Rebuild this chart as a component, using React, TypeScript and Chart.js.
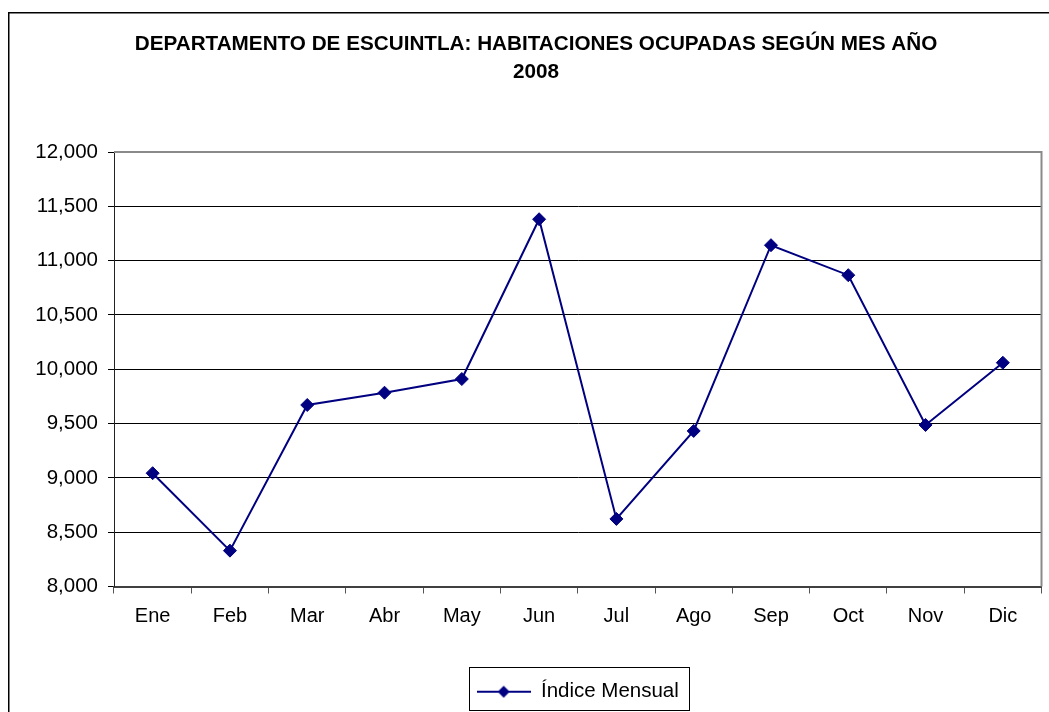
import React, { useEffect, useRef } from 'react';
import { Chart, registerables } from 'chart.js';

Chart.register(...registerables);

const TITLE_LINES = ['DEPARTAMENTO DE ESCUINTLA: HABITACIONES OCUPADAS SEGÚN MES AÑO', '2008'];
const MONTHS = ['Ene', 'Feb', 'Mar', 'Abr', 'May', 'Jun', 'Jul', 'Ago', 'Sep', 'Oct', 'Nov', 'Dic'];
const INDICE_MENSUAL = [9043, 8330, 9671, 9784, 9910, 11381, 8622, 9432, 11142, 10866, 9487, 10060];
const SERIES_LABEL = 'Índice Mensual';
const Y_MIN = 8000;
const Y_MAX = 12000;
const Y_STEP = 500;

const FONT = "'Liberation Sans', Arial, sans-serif";
const NAVY = '#000080';

function makeLegendSymbol(): HTMLCanvasElement {
  const c = document.createElement('canvas');
  c.width = 54;
  c.height = 14;
  const g = c.getContext('2d')!;
  g.strokeStyle = NAVY;
  g.lineWidth = 2;
  g.beginPath();
  g.moveTo(0, 7);
  g.lineTo(54, 7);
  g.stroke();
  g.fillStyle = NAVY;
  g.beginPath();
  g.moveTo(27, 1);
  g.lineTo(33, 7);
  g.lineTo(27, 13);
  g.lineTo(21, 7);
  g.closePath();
  g.fill();
  return c;
}

const framePlugin = {
  id: 'frame',
  afterDraw(chart: any) {
    const { ctx, chartArea: ca, width, height } = chart;
    ctx.save();
    // plot area top / right border
    ctx.strokeStyle = '#8a8a8a';
    ctx.lineWidth = 2;
    ctx.beginPath();
    ctx.moveTo(ca.left, ca.top);
    ctx.lineTo(ca.right, ca.top);
    ctx.lineTo(ca.right, ca.bottom);
    ctx.stroke();
    // outer chart border (left / top visible)
    ctx.strokeStyle = '#000';
    ctx.lineWidth = 1.5;
    ctx.beginPath();
    ctx.moveTo(0.75, height);
    ctx.lineTo(0.75, 0.75);
    ctx.lineTo(width, 0.75);
    ctx.stroke();
    // legend box
    const hb = chart.legend && chart.legend.legendHitBoxes && chart.legend.legendHitBoxes[0];
    if (hb) {
      const cy = hb.top + hb.height / 2 - 3;
      ctx.lineWidth = 1;
      ctx.strokeStyle = '#000';
      ctx.strokeRect(Math.round(hb.left - 8) + 0.5, Math.round(cy - 21.5) + 0.5, Math.round(hb.width + 18), 43);
    }
    ctx.restore();
  },
};

export default function App() {
  const ref = useRef<HTMLCanvasElement | null>(null);

  useEffect(() => {
    if (!ref.current) return;
    const symbol = makeLegendSymbol();
    const chart = new Chart(ref.current, {
      type: 'line',
      data: {
        labels: MONTHS,
        datasets: [
          {
            label: SERIES_LABEL,
            data: INDICE_MENSUAL,
            borderColor: NAVY,
            backgroundColor: NAVY,
            borderWidth: 2,
            tension: 0,
            pointStyle: 'rectRot',
            pointRadius: 6.5,
            pointBackgroundColor: NAVY,
            pointBorderColor: NAVY,
            pointBorderWidth: 1,
          },
        ],
      },
      options: {
        animation: false,
        responsive: false,
        layout: { padding: { left: 22, right: 7, top: 0, bottom: 0 } },
        plugins: {
          title: {
            display: true,
            text: TITLE_LINES,
            color: '#000',
            font: { family: FONT, size: 20.7, weight: 'bold', lineHeight: '28px' },
            padding: { top: 18.5, bottom: 65.5 },
          },
          legend: {
            display: true,
            position: 'bottom',
            fullSize: false,
            labels: {
              color: '#000',
              font: { family: FONT, size: 20.5 },
              usePointStyle: true,
              pointStyleWidth: 54,
              padding: 10,
              generateLabels: (ch: any) => {
                const items = Chart.defaults.plugins.legend.labels.generateLabels(ch);
                return items.map((it: any) => ({ ...it, pointStyle: symbol, fontColor: '#000' }));
              },
            },
          },
          tooltip: { enabled: false },
        },
        scales: {
          x: {
            type: 'category',
            offset: true,
            afterFit: (s: any) => {
              s.height = 85;
            },
            grid: {
              display: true,
              drawOnChartArea: false,
              drawTicks: true,
              tickLength: 7,
              offset: true,
              color: '#555',
              lineWidth: 1,
            },
            border: { display: true, color: '#404040', width: 2 },
            ticks: {
              color: '#000',
              font: { family: FONT, size: 20 },
              padding: 11,
              maxRotation: 0,
              autoSkip: false,
            },
          },
          y: {
            min: Y_MIN,
            max: Y_MAX,
            afterFit: (s: any) => {
              s.width = 84;
            },
            grid: {
              color: '#000',
              lineWidth: 1,
              drawTicks: true,
              tickLength: 6,
            },
            border: { display: true, color: '#222', width: 1 },
            ticks: {
              stepSize: Y_STEP,
              color: '#000',
              font: { family: FONT, size: 20.5 },
              padding: 10,
              callback: (v: any) => Number(v).toLocaleString('en-US'),
            },
          },
        },
      },
      plugins: [framePlugin],
    });
    return () => chart.destroy();
  }, []);

  return (
    <div style={{ position: 'absolute', left: 8, top: 12, width: 1041, height: 700, background: '#fff' }}>
      <canvas ref={ref} width={1041} height={700} style={{ display: 'block', width: 1041, height: 700 }} />
    </div>
  );
}
